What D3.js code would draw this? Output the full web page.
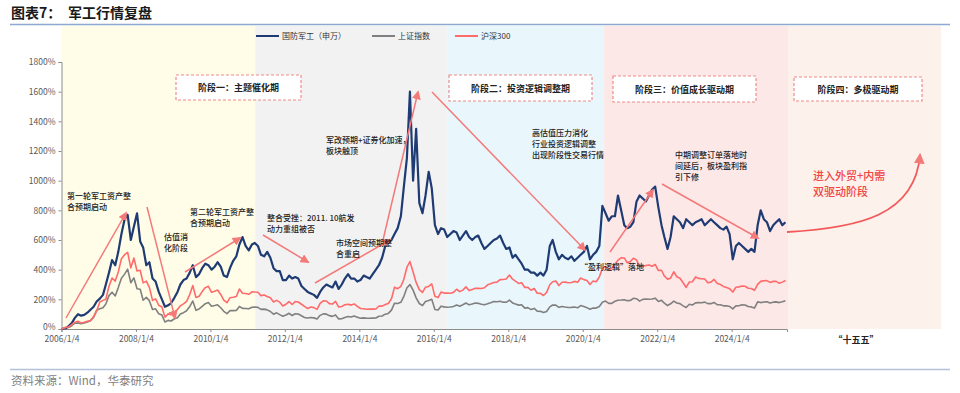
<!DOCTYPE html>
<html>
<head>
<meta charset="utf-8">
<script src="https://cdn.jsdelivr.net/npm/d3@7"></script>
<style>
  body { margin: 0; background: #fff; }
  svg text { font-family: "Noto Sans CJK SC", "Liberation Sans", sans-serif; }
</style>
</head>
<body>
<div id="chart"></div>
<script>
// monthly points, Jan 2006 .. Jun 2025, cumulative return (%) since 2006/1/4
const startYear = 2006;
const defense = [
  0, 5, 20, 40, 75, 100, 90, 95, 110, 130, 150, 185,
  205, 230, 300, 380, 465, 430, 520, 640, 740, 770, 600, 690,
  780, 590, 550, 430, 450, 340, 320, 250, 200, 150, 160, 175,
  210, 250, 300, 330, 340, 380, 430, 350, 370, 410, 440, 430,
  400, 420, 450, 420, 360, 350, 410, 460, 490, 570, 620, 560,
  530, 570, 580, 560, 500, 490, 520, 480, 410, 390, 390, 330,
  330, 360, 340, 350, 340, 290, 270, 250, 240, 230, 210, 250,
  280, 300, 290, 280, 320, 270, 300, 340, 370, 340, 340, 320,
  330, 360, 350, 340, 370, 400, 430, 480, 560, 580, 600, 640,
  680, 760, 950, 1150, 1600, 1000, 1350, 850, 780, 900, 1060, 950,
  700, 640, 680, 670, 620, 640, 660, 650, 600, 630, 660, 620,
  600, 620, 630, 580, 540, 560, 580, 600, 610, 630, 580, 540,
  550, 480, 500, 470, 440, 400, 400, 380, 380, 360, 380, 360,
  400, 560, 600, 520, 470, 500, 480, 470, 490, 460, 480, 500,
  520, 560, 470, 500, 520, 560, 830, 780, 730, 760, 760, 900,
  800, 700, 680, 690, 720, 860, 900, 880, 860, 900, 940, 960,
  820, 700, 620, 540, 620, 760, 740, 720, 680, 740, 720, 700,
  720, 730, 740, 700, 720, 740, 720, 700, 680, 670, 690, 640,
  470, 560, 580, 560, 540, 520, 540, 520, 700, 800, 740, 720,
  660, 700, 720, 740, 700, 720
];
const shanghai = [
  0, 10, 10, 22, 39, 41, 36, 41, 48, 56, 78, 127,
  136, 144, 169, 225, 248, 223, 279, 342, 370, 404, 312, 345,
  271, 268, 194, 213, 191, 132, 136, 103, 94, 47, 58, 54,
  69, 76, 101, 110, 123, 151, 189, 126, 135, 153, 171, 178,
  153, 158, 163, 143, 119, 103, 124, 124, 125, 152, 139, 138,
  136, 146, 148, 146, 132, 134, 129, 118, 100, 109, 97, 86,
  94, 106, 91, 103, 101, 89, 78, 74, 77, 75, 68, 92,
  102, 100, 90, 85, 95, 68, 69, 78, 84, 81, 88, 80,
  72, 75, 72, 72, 73, 74, 86, 88, 100, 105, 127, 174,
  172, 180, 218, 276, 300, 262, 210, 172, 158, 186, 192, 200,
  132, 128, 154, 149, 147, 148, 152, 162, 154, 163, 175, 163,
  168, 175, 173, 167, 164, 170, 177, 185, 184, 187, 181, 180,
  195, 176, 168, 161, 163, 141, 144, 131, 139, 120, 119, 111,
  118, 149, 162, 161, 146, 152, 148, 145, 146, 148, 143, 158,
  152, 144, 133, 142, 141, 152, 180, 188, 173, 173, 187, 194,
  195, 197, 191, 192, 207, 204, 188, 200, 202, 201, 202, 208,
  185, 193, 175, 158, 170, 188, 175, 171, 156, 145, 167, 162,
  176, 178, 177, 181, 171, 171, 179, 164, 163, 156, 157, 152,
  136, 156, 157, 163, 162, 152, 149, 141, 183, 178, 182, 184,
  175, 181, 183, 178, 184, 191
];
const csi300 = [
  0, 12, 14, 30, 46, 52, 41, 46, 52, 57, 84, 121,
  182, 193, 201, 288, 344, 323, 384, 474, 501, 516, 412, 479,
  391, 396, 311, 323, 281, 193, 203, 160, 148, 80, 102, 97,
  116, 132, 156, 169, 186, 232, 293, 212, 221, 252, 279, 288,
  247, 255, 263, 233, 194, 177, 211, 214, 219, 269, 241, 239,
  234, 251, 249, 248, 225, 229, 219, 211, 182, 193, 181, 155,
  167, 185, 165, 185, 182, 167, 152, 138, 148, 144, 132, 173,
  190, 189, 171, 168, 186, 148, 152, 163, 167, 161, 169, 152,
  138, 136, 133, 134, 134, 135, 155, 154, 165, 172, 204, 282,
  272, 287, 332, 415, 455, 384, 314, 265, 247, 282, 287, 304,
  220, 212, 249, 242, 243, 241, 247, 268, 252, 262, 284, 259,
  267, 274, 275, 273, 278, 298, 305, 314, 316, 333, 334, 337,
  364, 336, 323, 307, 312, 280, 281, 261, 273, 241, 240, 226,
  247, 298, 319, 324, 293, 315, 316, 312, 313, 321, 315, 344,
  333, 327, 300, 324, 319, 351, 409, 421, 397, 409, 437, 464,
  480, 479, 447, 455, 477, 466, 421, 423, 428, 432, 423, 435,
  394, 396, 357, 336, 343, 386, 352, 342, 312, 280, 317, 319,
  351, 341, 339, 337, 312, 316, 334, 308, 300, 287, 279, 272,
  249, 281, 284, 290, 288, 275, 273, 260, 301, 321, 325, 326,
  314, 321, 321, 308, 316, 327
];

const seriesNames = ['国防军工（申万）', '上证指数', '沪深300'];
const seriesColors = ['#1f3b73', '#808080', '#ff6b6b'];
const yTicks = [0, 200, 400, 600, 800, 1000, 1200, 1400, 1600, 1800];
const xTickDates = ['2006-01-04', '2008-01-04', '2010-01-04', '2012-01-04', '2014-01-04',
  '2016-01-04', '2018-01-04', '2020-01-04', '2022-01-04', '2024-01-04'];

// stage bands (start, end)
const stageBands = [
  ['2006-01-04', '2011-03-20', '#fffde8'],
  ['2011-03-20', '2016-05-10', '#f2f2f2'],
  ['2016-05-10', '2020-08-01', '#e9f6fc'],
  ['2020-08-01', '2025-07-10', '#fde8e8'],
  ['2025-07-10', '2029-08-20', '#fdf1ec']
];
const stageLabels = ['阶段一：主题催化期', '阶段二：投资逻辑调整期', '阶段三：价值成长驱动期', '阶段四：多极驱动期'];

const width = 960, height = 393;
const parse = d3.timeParse('%Y-%m-%d');
const fmt = d3.timeFormat('%Y/%-m/%-d');

const svg = d3.select('#chart').append('svg').attr('width', width).attr('height', height);

const x = d3.scaleTime()
  .domain([parse('2006-01-04'), parse('2025-06-30')])
  .range([61.5, 787]);
const y = d3.scaleLinear().domain([0, 1800]).range([329, 62]);

const dateAt = (i) => new Date(startYear, i, i === 0 ? 4 : 15);

// title
svg.append('text').attr('x', 11).attr('y', 18).attr('font-size', 14).attr('font-weight', 700)
  .attr('fill', '#1a1a1a').text('图表7：');
svg.append('text').attr('x', 68).attr('y', 18).attr('font-size', 14).attr('font-weight', 700)
  .attr('fill', '#1a1a1a').text('军工行情复盘');
svg.append('line').attr('x1', 10).attr('x2', 950).attr('y1', 24.5).attr('y2', 24.5)
  .attr('stroke', '#8ea9cf').attr('stroke-width', 1.5);

// backgrounds
svg.append('g').selectAll('rect').data(stageBands).enter().append('rect')
  .attr('x', (d) => x(parse(d[0])))
  .attr('width', (d) => x(parse(d[1])) - x(parse(d[0])))
  .attr('y', 26).attr('height', 329 - 26)
  .attr('fill', (d) => d[2]);

// axes
const yAxis = svg.append('g').attr('transform', 'translate(61.5,0)')
  .call(d3.axisLeft(y).tickValues(yTicks).tickSize(3).tickFormat((d) => d + '%'));
const xAxis = svg.append('g').attr('transform', 'translate(0,329)')
  .call(d3.axisBottom(x).tickValues(xTickDates.map(parse)).tickSize(3).tickFormat(fmt));
[yAxis, xAxis].forEach((g) => {
  g.select('.domain').attr('stroke', '#8c8c8c');
  g.selectAll('.tick line').attr('stroke', '#8c8c8c');
  g.selectAll('.tick text').attr('fill', '#595959').attr('font-size', 8.5)
    .attr('font-family', '"Liberation Sans", Arial, sans-serif');
});
yAxis.selectAll('.tick text').attr('x', -6);
yAxis.selectAll('.tick text').filter((d) => d === 0).attr('dy', '0.1em');
xAxis.selectAll('.tick text').attr('y', 7);

// lines
const line = d3.line().x((d, i) => x(dateAt(i))).y((d) => y(d));
[defense, shanghai, csi300].forEach((s, k) => {
  svg.append('path').datum(s).attr('d', line).attr('fill', 'none')
    .attr('stroke', seriesColors[k]).attr('stroke-width', k === 0 ? 2.2 : 1.6)
    .attr('stroke-linejoin', 'round');
});

// legend
const legendX = [256, 372, 455];
const legend = svg.append('g');
seriesNames.forEach((n, k) => {
  legend.append('line').attr('x1', legendX[k]).attr('x2', legendX[k] + 23)
    .attr('y1', 36).attr('y2', 36).attr('stroke', seriesColors[k]).attr('stroke-width', 2);
  legend.append('text').attr('x', legendX[k] + 26).attr('y', 39).attr('font-size', 8)
    .attr('fill', '#333').text(n);
});

// stage boxes
const boxes = [[176, 75, 125, 25], [449, 75, 143, 26], [613, 76, 143, 26], [794, 77, 128, 24]];
boxes.forEach((b, k) => {
  svg.append('rect').attr('x', b[0]).attr('y', b[1]).attr('width', b[2]).attr('height', b[3])
    .attr('fill', '#fff').attr('stroke', '#f08a8a').attr('stroke-width', 1.2)
    .attr('stroke-dasharray', '3,2');
  svg.append('text').attr('x', b[0] + b[2] / 2).attr('y', b[1] + b[3] / 2 + 3.5)
    .attr('text-anchor', 'middle').attr('font-size', 9).attr('font-weight', 700)
    .attr('fill', '#222').text(stageLabels[k]);
});

// annotation arrows
const arrowColor = '#f47a7a';
const defs = svg.append('defs');
defs.append('marker').attr('id', 'ah').attr('viewBox', '0 0 10 10').attr('refX', 8).attr('refY', 5)
  .attr('markerWidth', 6).attr('markerHeight', 6).attr('orient', 'auto-start-reverse')
  .append('path').attr('d', 'M0,0L10,5L0,10z').attr('fill', arrowColor);

const arrows = [
  [66, 318, 126, 213], [147, 207, 175, 318], [185, 272, 240, 238], [263, 235, 308, 262],
  [315, 283, 390, 240], [383, 240, 418, 92], [432, 92, 585, 250], [610, 252, 653, 190],
  [662, 184, 758, 238]
];
arrows.forEach((a) => {
  svg.append('line').attr('x1', a[0]).attr('y1', a[1]).attr('x2', a[2]).attr('y2', a[3])
    .attr('stroke', arrowColor).attr('stroke-width', 1.5).attr('marker-end', 'url(#ah)');
});
svg.append('path').attr('d', 'M787,232 C860,228 915,215 920,155').attr('fill', 'none')
  .attr('stroke', '#f25a5a').attr('stroke-width', 1.8).attr('marker-end', 'url(#ah)');

// annotation texts
const notes = [
  [67, 199, ['第一轮军工资产整', '合预期启动']],
  [164, 240, ['估值消', '化阶段']],
  [190, 215, ['第二轮军工资产整', '合预期启动']],
  [267, 221, ['整合受挫：2011. 10航发', '动力重组被否']],
  [326, 143, ['军改预期+证券化加速，', '板块触顶']],
  [336, 246, ['市场空间预期整', '合重启']],
  [532, 136, ['高估值压力消化', '行业投资逻辑调整', '出现阶段性交易行情']],
  [675, 158, ['中期调整订单落地时', '间延后，板块盈利指', '引下修']]
];
notes.forEach((n) => {
  const t = svg.append('text').attr('x', n[0]).attr('y', n[1]).attr('font-size', 8)
    .attr('fill', '#222').attr('font-weight', 500);
  n[2].forEach((s, i) => t.append('tspan').attr('x', n[0]).attr('dy', i ? 11 : 0).text(s));
});
svg.append('text').attr('x', 580).attr('y', 270).attr('font-size', 8).attr('fill', '#222')
  .attr('font-weight', 500).text('“盈利逻辑”落地');

const red = svg.append('text').attr('x', 813).attr('y', 180).attr('font-size', 11)
  .attr('fill', '#f04545').attr('font-weight', 500);
['进入外贸+内需', '双驱动阶段'].forEach((s, i) => red.append('tspan').attr('x', 813).attr('dy', i ? 16 : 0).text(s));

svg.append('text').attr('x', 856).attr('y', 343).attr('text-anchor', 'middle').attr('font-size', 9)
  .attr('font-weight', 700).attr('fill', '#222').text('“十五五”');

// footer
svg.append('line').attr('x1', 10).attr('x2', 950).attr('y1', 369.5).attr('y2', 369.5)
  .attr('stroke', '#b4c3da').attr('stroke-width', 1.5);
svg.append('text').attr('x', 11).attr('y', 385).attr('font-size', 11.5).attr('fill', '#7f7f7f')
  .text('资料来源：Wind，华泰研究');
</script>
</body>
</html>
